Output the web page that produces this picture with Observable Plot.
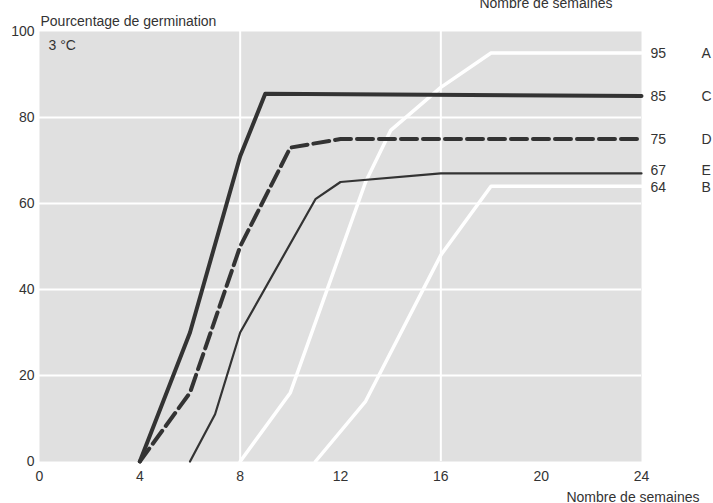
<!DOCTYPE html>
<html>
<head>
<meta charset="utf-8">
<script src="https://cdn.jsdelivr.net/npm/d3@7"></script>
<script src="https://cdn.jsdelivr.net/npm/@observablehq/plot@0.6"></script>
<style>
  html, body { margin: 0; padding: 0; background: #ffffff; }
  #chart svg { display: block; font-family: "Liberation Sans", Arial, sans-serif; }
</style>
</head>
<body>
<div id="chart"></div>
<script>
// Series C (thick solid black)
const weeksC = [4, 6, 8, 9, 24];
const pctC   = [0, 30, 71, 85.5, 85];
// Series D (thick dashed black)
const weeksD = [4, 6, 8, 10, 12, 24];
const pctD   = [0, 16, 50, 73, 75, 75];
// Series E (thin solid black)
const weeksE = [6, 7, 8, 11, 12, 16, 24];
const pctE   = [0, 11, 30, 61, 65, 67, 67];
// Series A (white)
const weeksA = [8, 10, 13, 14, 16, 18, 24];
const pctA   = [0, 16, 65, 77, 87, 95, 95];
// Series B (white)
const weeksB = [11, 13, 16, 18, 24];
const pctB   = [0, 14, 48, 64, 64];

// End labels
const endLetters = ["A", "C", "D", "E", "B"];
const endValues  = [95, 85, 75, 67, 64];

// Axis ticks
const xTicks = [0, 4, 8, 12, 16, 20, 24];
const yTicks = [0, 20, 40, 60, 80, 100];
const xGrid = [8, 16];
const yGrid = [20, 40, 60, 80];

const toRows = (ws, ps) => ws.map((w, i) => ({w, p: ps[i]}));
const rowsA = toRows(weeksA, pctA);
const rowsB = toRows(weeksB, pctB);
const rowsC = toRows(weeksC, pctC);
const rowsD = toRows(weeksD, pctD);
const rowsE = toRows(weeksE, pctE);
const ends = endLetters.map((l, i) => ({letter: l, value: endValues[i], w: 24}));
const endsMain = ends.filter(d => d.letter !== "E");
const endsE = ends.filter(d => d.letter === "E");

const ink = "#333333";
const fs = 14;

const chart = Plot.plot({
  width: 713,
  height: 503,
  marginLeft: 39,
  marginRight: 72,
  marginTop: 31,
  marginBottom: 42,
  style: {fontFamily: "'Liberation Sans', Arial, sans-serif", fontSize: "14px", color: ink, background: "#ffffff"},
  x: {domain: [0, 24], ticks: xTicks, tickSize: 0, tickPadding: 10, label: null},
  y: {domain: [0, 100], ticks: yTicks, tickSize: 0, tickPadding: 5, label: null},
  marks: [
    Plot.frame({fill: "#e0e0e0", stroke: null}),
    Plot.ruleX(xGrid, {stroke: "#ffffff", strokeWidth: 2}),
    Plot.ruleY(yGrid, {stroke: "#ffffff", strokeWidth: 2}),
    Plot.axisX({ticks: xTicks, tickSize: 0, tickPadding: 10, fill: ink, fontSize: fs}),
    Plot.axisY({ticks: yTicks, tickSize: 0, tickPadding: 5, fill: ink, fontSize: fs}),
    Plot.line(rowsA, {x: "w", y: "p", stroke: "#ffffff", strokeWidth: 3.5}),
    Plot.line(rowsB, {x: "w", y: "p", stroke: "#ffffff", strokeWidth: 3.5}),
    Plot.line(rowsE, {x: "w", y: "p", stroke: ink, strokeWidth: 2.2}),
    Plot.line(rowsD, {x: "w", y: "p", stroke: ink, strokeWidth: 4, strokeDasharray: "16,6"}),
    Plot.line(rowsC, {x: "w", y: "p", stroke: ink, strokeWidth: 4}),
    Plot.text(endsMain, {x: "w", y: "value", text: d => String(d.value), textAnchor: "start", dx: 9, dy: 1, fill: ink, fontSize: fs}),
    Plot.text(endsMain, {x: "w", y: "value", text: "letter", textAnchor: "start", dx: 60, dy: 1, fill: ink, fontSize: fs}),
    Plot.text(endsE, {x: "w", y: "value", text: d => String(d.value), textAnchor: "start", dx: 9, dy: -3, fill: ink, fontSize: fs}),
    Plot.text(endsE, {x: "w", y: "value", text: "letter", textAnchor: "start", dx: 60, dy: -3, fill: ink, fontSize: fs}),
    Plot.text(["Pourcentage de germination"], {frameAnchor: "top-left", textAnchor: "start", lineAnchor: "bottom", dx: 1, dy: -6, fill: ink, fontSize: fs}),
    Plot.text(["3 °C"], {frameAnchor: "top-left", textAnchor: "start", lineAnchor: "middle", dx: 9, dy: 14, fill: ink, fontSize: fs}),
    Plot.text(["Nombre de semaines"], {frameAnchor: "bottom-right", textAnchor: "end", lineAnchor: "bottom", dx: 58, dy: 40, fill: ink, fontSize: fs}),
    Plot.text(["Nombre de semaines"], {frameAnchor: "top-right", textAnchor: "end", lineAnchor: "bottom", dx: -29, dy: -24, fill: ink, fontSize: fs})
  ]
});

document.getElementById("chart").appendChild(chart);
</script>
</body>
</html>
